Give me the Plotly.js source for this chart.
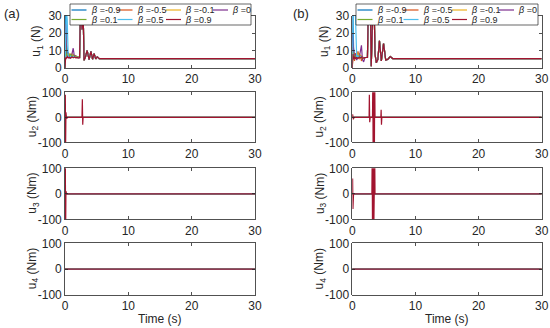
<!DOCTYPE html>
<html><head><meta charset="utf-8">
<script src="https://cdn.plot.ly/plotly-3.0.1.min.js"></script>
<style>html,body{margin:0;padding:0;background:#fff}#chart{width:550px;height:328px}</style>
</head><body><div id="chart"></div>
<script>
const betaLabels = ['-0.9','-0.5','-0.1','0','0.1','0.5','0.9'];
const seriesColors = ['#0072BD','#D95319','#EDB120','#7E2F8E','#77AC30','#4DBEEE','#A2142F'];
const timeTicks = [0,10,20,30];
const forceTicks = [0,10,20,30];
const torqueTicks = [-100,0,100];
const yTitles = ['u<sub>1</sub> (N)','u<sub>2</sub> (Nm)','u<sub>3</sub> (Nm)','u<sub>4</sub> (Nm)'];
const panelLabels = ['(a)','(b)'];

// panel (a), u1
const tA1_head = [0,0.1,0.2,0.35,0.5,0.7,0.9,1.1,1.3,1.5,1.7,1.9,2.1,2.3];
const tA1_tail = [2.45,2.55,2.7,2.85,3.0,3.2,3.5,3.8,4.1,4.35,4.6,4.85,5.1,5.4,5.8,30];
const u1A_head = [
  [0,32,14,8,6.5,7.5,6,7,6.5,7,6,6.5,6,6],
  [0,20,9,7,8.5,6.5,8,6,7.5,6.5,7,6,6.2,6],
  [0,15,8,8,7,8,6.5,8,7,6.8,6.3,6.5,6,6],
  [18,25,10,6,9,5.5,7,8,11.3,6,7,5.8,6.1,6],
  [0,12,7,7.5,8,7,7.8,6.5,7.2,6.5,6.8,6.2,6,6],
  [0,33,33,28,6.5,6,6.8,6.2,6.6,6.3,6.4,6.1,6,6],
  [0,6,5.5,6.5,5.8,6.2,5.6,6.4,5.9,6.3,5.8,6.1,5.7,6]
];
const u1A_tail = [36,34,22,36,4.5,6,10,4.8,9.5,5,8.2,5.2,6.4,5.3,5.4,5.4];

// panel (b), u1
const tB1_head = [0,0.1,0.2,0.35,0.5,0.7,0.9,1.1,1.3,1.45,1.6,1.8,2.0,2.2];
const tB1_tail = [2.4,2.55,2.7,2.85,3.0,3.15,3.3,3.45,3.6,3.8,4.05,4.3,4.6,4.95,5.3,5.65,6.0,6.4,30];
const u1B_head = [
  [0,34,12,6,8,5,7,6,6.5,5.5,6,5.8,6,6],
  [0,12,9,4,8.5,6,9.5,5,7.5,4,6.5,5.5,6,6],
  [0,10,7,8,5,9,6,8.5,6,7,5,6,6,6],
  [20,12,10,5,8,4.5,7,6,10,13,5,3.5,6,6],
  [0,9,6,7,6,7.5,5.5,7,6,6.5,5.5,6,6,6],
  [0,34,34,33,30,6,7,6,6.5,6,6,5.8,6,6],
  [0,8,5,6.5,5.5,6,5.5,6.3,5.8,6.2,5.7,6,5.9,6]
];
const u1B_tail = [6,38,35,38,1,20,38,36,8,3,5,15.5,4,14,4.5,5,6.5,5.4,5.4];

// torques, beta = 0.9 (the others stay at zero)
const tA2 = [0,0.05,0.1,0.15,0.25,0.4,2.6,2.68,2.74,2.8,2.86,30];
const u2A_red = [0,90,-110,20,-5,0,0,0,72,-30,0,0];
const tB2 = [0,0.05,0.15,0.3,2.6,2.66,2.7,2.76,2.84,3.2,3.25,3.3,3.35,3.4,3.45,3.5,3.55,3.6,4.52,4.57,4.62,4.68,30];
const u2B_red = [0,12,-8,0,0,0,90,-20,0,0,150,-150,150,-150,150,-150,150,0,0,30,-30,0,0];
const tA3 = [0,0.05,0.1,0.15,0.25,30];
const u3A_red = [0,150,-150,10,0,0];
const tB3 = [0,0.05,0.1,0.2,3.1,3.15,3.2,3.25,3.3,3.35,3.4,3.45,3.5,3.55,3.6,30];
const u3B_red = [0,60,-60,0,0,150,-150,150,-150,150,-150,150,-150,150,0,0];
const tA4 = [0,30];
const u4A_red = [0,0];
const tB4 = [0,30];
const u4B_red = [0,0];
const otherT = [0,30];
const otherV = [0,0];

const FONT = 'Liberation Sans, Arial, Helvetica, sans-serif';
const INK = '#262626';
const W = 550, H = 328;
const px = v => v / W;
const py = v => 1 - v / H;

const colX = [[65,255],[352.3,541.7]];
const rowY = [[15.5,68],[92.3,142.3],[168.3,219.3],[243.3,295]];

const panels = [
  {u1T: tA1_head.concat(tA1_tail), u1H: u1A_head, u1Tail: u1A_tail,
   torque: [[tA2,u2A_red],[tA3,u3A_red],[tA4,u4A_red]]},
  {u1T: tB1_head.concat(tB1_tail), u1H: u1B_head, u1Tail: u1B_tail,
   torque: [[tB2,u2B_red],[tB3,u3B_red],[tB4,u4B_red]]}
];

const traces = [];
const layout = {
  width: W, height: H, margin: {l:0,r:0,t:0,b:0},
  paper_bgcolor: '#fff', plot_bgcolor: '#fff',
  font: {family: FONT, size: 12, color: INK},
  showlegend: false, shapes: [], annotations: []
};

function axBase(extra) {
  return Object.assign({
    showline: true, mirror: 'ticks', linecolor: INK, linewidth: 0.8,
    ticks: 'inside', ticklen: 3, tickwidth: 0.8, tickcolor: INK,
    showgrid: false, zeroline: false, fixedrange: true,
    tickfont: {family: FONT, size: 12, color: INK}
  }, extra);
}

panels.forEach((p, c) => {
  for (let r = 0; r < 4; r++) {
    const n = c * 4 + r + 1;
    const xa = 'x' + n, ya = 'y' + n;
    for (let i = 0; i < 7; i++) {
      let xs, ys;
      if (r === 0) { xs = p.u1T; ys = p.u1H[i].concat(p.u1Tail); }
      else if (i === 6) { xs = p.torque[r-1][0]; ys = p.torque[r-1][1]; }
      else { xs = otherT; ys = otherV; }
      traces.push({x: xs, y: ys, xaxis: xa, yaxis: ya, type: 'scatter', mode: 'lines',
        name: 'β =' + betaLabels[i], line: {color: seriesColors[i], width: 1.2}, hoverinfo: 'skip'});
    }
    layout['xaxis' + n] = axBase({anchor: ya, domain: [px(colX[c][0]), px(colX[c][1])],
      range: [0,30], tickvals: timeTicks, ticktext: timeTicks.map(String)});
    layout['yaxis' + n] = axBase({anchor: xa, domain: [py(rowY[r][1]), py(rowY[r][0])],
      range: r === 0 ? [0,30] : [-100,100], tickvals: r === 0 ? forceTicks : torqueTicks,
      ticktext: (r === 0 ? forceTicks : torqueTicks).map(String)});
    const off = r === 0 ? 28 : 32;
    layout.annotations.push({text: yTitles[r], xref: 'paper', yref: 'paper',
      x: px(colX[c][0] - off), y: py((rowY[r][0] + rowY[r][1]) / 2), textangle: -90,
      xanchor: 'center', yanchor: 'middle', showarrow: false, font: {size: 12, color: INK}});
  }
  // x title
  layout.annotations.push({text: 'Time (s)', xref: 'paper', yref: 'paper',
    x: px((colX[c][0] + colX[c][1]) / 2), y: py(319), xanchor: 'center', yanchor: 'middle',
    showarrow: false, font: {size: 12, color: INK}});
  // panel label
  layout.annotations.push({text: panelLabels[c], xref: 'paper', yref: 'paper',
    x: px(c === 0 ? 2 : 291), y: py(13), xanchor: 'left', yanchor: 'middle',
    showarrow: false, font: {size: 13, color: INK}});
  // legend
  const bx = c === 0 ? [70,251] : [356,538];
  layout.shapes.push({type: 'rect', xref: 'paper', yref: 'paper', layer: 'above',
    x0: px(bx[0]), x1: px(bx[1]), y0: py(25), y1: py(4),
    fillcolor: '#fff', line: {color: INK, width: 0.7}});
  const colOff = [1.5, 47.5, 96, 143];
  const rowC = [10, 19.5];
  for (let i = 0; i < 7; i++) {
    const cx = bx[0] + colOff[i % 4], cy = rowC[Math.floor(i / 4)];
    layout.shapes.push({type: 'line', xref: 'paper', yref: 'paper', layer: 'above',
      x0: px(cx), x1: px(cx + 15), y0: py(cy), y1: py(cy),
      line: {color: seriesColors[i], width: 1.2}});
    layout.annotations.push({text: '<i>β</i> =' + betaLabels[i], xref: 'paper', yref: 'paper',
      x: px(cx + 17), y: py(cy), xanchor: 'left', yanchor: 'middle', showarrow: false,
      font: {size: 9, color: INK}});
  }
});

Plotly.newPlot('chart', traces, layout, {staticPlot: true, displayModeBar: false});
</script></body></html>
